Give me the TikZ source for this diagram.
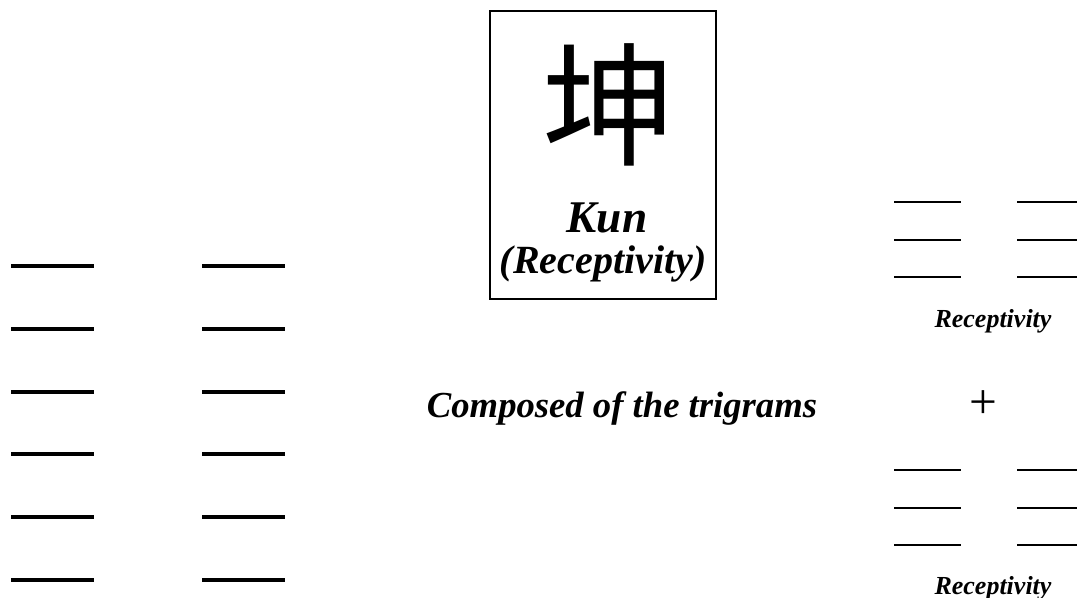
\documentclass[tikz,border=0pt]{standalone}
\usepackage{fontspec}
\setmainfont{Liberation Serif}
\newfontfamily\cjk{Noto Sans CJK SC}
\usepackage{tikz}
\usetikzlibrary{positioning}

\tikzset{
  yao/.style={line width=2.4pt},
  smallyao/.style={line width=1.1pt},
  label/.style={font=\bfseries\itshape, inner sep=0pt, anchor=base}
}

\begin{document}
\begin{tikzpicture}[x=0.75pt, y=-0.75pt]
  \useasboundingbox (0,0) rectangle (1077,598);
  % hexagram, six broken lines
  \foreach \y in {266,329,392,454,517,580} {
    \draw[yao] (11,\y) -- (94,\y);
    \draw[yao] (202,\y) -- (285,\y);
  }
  % name box
  \draw[line width=1pt] (490,11) rectangle (716,299);
  \node (hanzi) at (609,105) {\cjk\fontsize{100pt}{100pt}\selectfont 坤};
  \node[label] (kun) at (607,233) {\fontsize{34pt}{34pt}\selectfont Kun};
  \node[label] (meaning) at (603,274) {\fontsize{30pt}{30pt}\selectfont (Receptivity)};
  \node[label] (composed) at (622,417) {\fontsize{27.5pt}{27.5pt}\selectfont Composed of the trigrams};
  % upper trigram
  \foreach \y in {202,240,277} {
    \draw[smallyao] (894,\y) -- (961,\y);
    \draw[smallyao] (1017,\y) -- (1084,\y);
  }
  \node[label] (upper) at (993,328) {\fontsize{19.5pt}{19.5pt}\selectfont Receptivity};
  \node (plus) at (983,405) {\fontsize{37pt}{37pt}\selectfont +};
  % lower trigram
  \foreach \y in {470,508,545} {
    \draw[smallyao] (894,\y) -- (961,\y);
    \draw[smallyao] (1017,\y) -- (1084,\y);
  }
  \node[label] (lower) at (993,594) {\fontsize{19.5pt}{19.5pt}\selectfont Receptivity};
\end{tikzpicture}
\end{document}
